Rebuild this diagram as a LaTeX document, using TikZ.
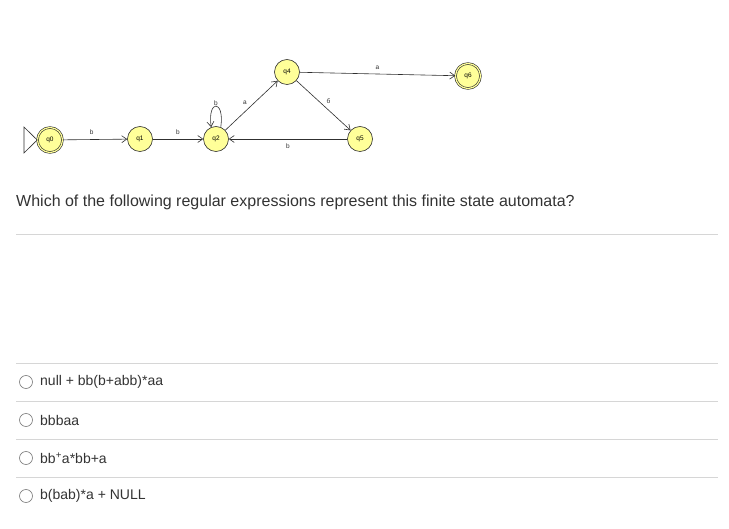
\documentclass[tikz,border=0pt]{standalone}
\usepackage{fontspec}
\setmainfont{Liberation Sans}
\usetikzlibrary{arrows.meta}
\definecolor{stfill}{HTML}{FFFF99}
\definecolor{stline}{HTML}{303030}
\definecolor{txt}{HTML}{333333}
\definecolor{rule}{HTML}{D6D6D6}
\definecolor{radio}{HTML}{7A7A7A}
\tikzset{
  state/.style={circle, draw=stline, fill=stfill, line width=0.6pt, minimum size=25pt, inner sep=0pt, font=\fontsize{6.5}{6.5}\selectfont},
  final/.style={state, double=stfill, double distance=1.2pt},
  arr/.style={draw=stline, line width=0.6pt, -{Straight Barb[length=5pt,width=7pt]}},
  elab/.style={font=\fontsize{6.5}{7}\selectfont, text=stline, inner sep=0pt},
  question/.style={anchor=west, text=txt, inner sep=0pt, font=\fontsize{16}{19}\selectfont},
  option/.style={anchor=west, text=txt, inner sep=0pt, font=\fontsize{14}{17}\selectfont},
  radiobtn/.style={circle, draw=radio, line width=0.6pt, minimum size=13pt, inner sep=0pt},
  sep/.style={draw=rule, line width=1pt}
}
\begin{document}
\begin{tikzpicture}[x=1pt,y=-1pt]
\useasboundingbox (0,0) rectangle (729,529);
\fill[white] (0,0) rectangle (729,529);

% states
\node[final] (q0) at (50,140) {q0};
\node[state] (q1) at (140,139) {q1};
\node[state] (q2) at (216,139) {q2};
\node[state] (q4) at (287,72) {q4};
\node[state] (q5) at (360,139) {q5};
\node[final] (q6) at (468,76) {q6};

% start marker
\coordinate (s1) at (24,127);
\coordinate (s2) at (24,153);
\draw[stline, line width=0.6pt] (s1) -- (q0.west) -- (s2) -- cycle;

% transitions
\draw[arr] (q0) -- node[elab, pos=0.45, yshift=7pt] {b} (q1);
\draw[arr] (q1) -- node[elab, pos=0.5, yshift=7pt] {b} (q2);
\draw[arr] (q2.68) .. controls +(4,-28) and +(-4,-28) .. (q2.112);
\node[elab] (l22) at (216,103) {b};
\draw[arr] (q2) -- node[elab, pos=0.45, xshift=-4pt, yshift=5pt] {a} (q4);
\draw[arr] (q4) -- node[elab, pos=0.52, xshift=4pt, yshift=5pt] {б} (q5);
\draw[arr] (q4) -- node[elab, pos=0.5, yshift=6pt] {a} (q6);
\draw[arr] (q5) -- node[elab, pos=0.5, yshift=-7pt] {b} (q2);

% question
\node[question] (qt) at (16,202) {Which of the following regular expressions represent this finite state automata?};
\coordinate (r0a) at (16,235); \coordinate (r0b) at (718,235);
\draw[sep] (r0a) -- (r0b);

\coordinate (r1a) at (16,364); \coordinate (r1b) at (718,364);
\coordinate (r2a) at (16,402); \coordinate (r2b) at (718,402);
\coordinate (r3a) at (16,440); \coordinate (r3b) at (718,440);
\coordinate (r4a) at (16,478); \coordinate (r4b) at (718,478);
\draw[sep] (r1a) -- (r1b);
\draw[sep] (r2a) -- (r2b);
\draw[sep] (r3a) -- (r3b);
\draw[sep] (r4a) -- (r4b);

% options
\node[radiobtn] (o1) at (26,382) {};
\node[option] (t1) at (40,382) {null + bb(b+abb)*aa};
\node[radiobtn] (o2) at (26,420) {};
\node[option] (t2) at (40,420) {bbbaa};
\node[radiobtn] (o3) at (26,458) {};
\node[option] (t3) at (40,458) {bb\textsuperscript{+}a*bb+a};
\node[radiobtn] (o4) at (26,496) {};
\node[option] (t4) at (40,496) {b(bab)*a + NULL};
\end{tikzpicture}
\end{document}
